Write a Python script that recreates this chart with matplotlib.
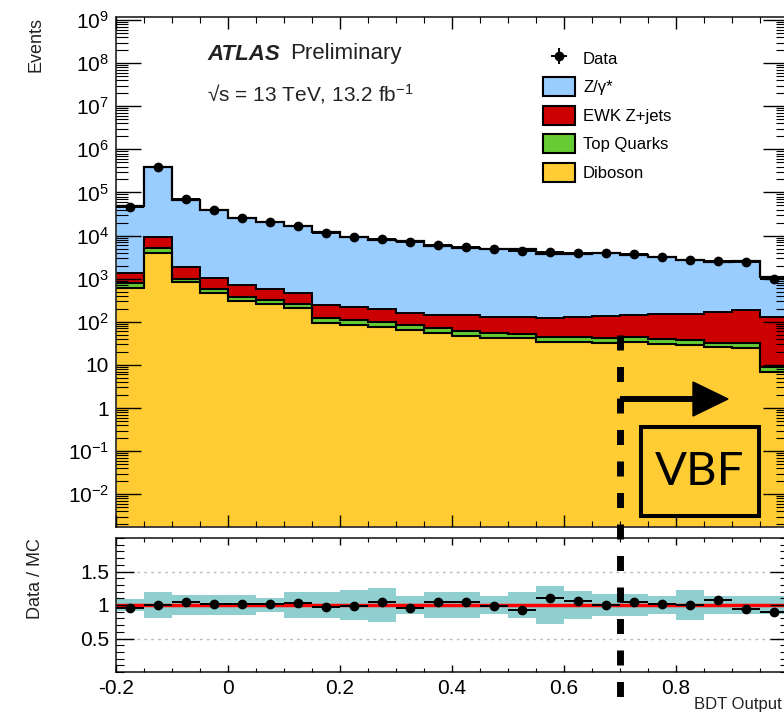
import numpy as np
import matplotlib
matplotlib.use('Agg')
import matplotlib.pyplot as plt
from matplotlib.patches import Patch, Rectangle, Polygon
from matplotlib.lines import Line2D
from matplotlib.ticker import FixedLocator, FuncFormatter, LogLocator, MultipleLocator, NullFormatter

plt.rcParams['font.family'] = ['Liberation Sans', 'DejaVu Sans']
plt.rcParams['mathtext.fontset'] = 'custom'
plt.rcParams['mathtext.rm'] = 'Liberation Sans'
plt.rcParams['mathtext.it'] = 'Liberation Sans:italic'
plt.rcParams['mathtext.bf'] = 'Liberation Sans:bold'
plt.rcParams['axes.unicode_minus'] = False

# ---------------- data ----------------
bin_edges = np.round(np.arange(-0.2, 1.0001, 0.05), 3)
data = [4.6e4, 3.9e5, 7.0e4, 3.9e4, 2.6e4, 2.1e4, 1.7e4, 1.15e4, 9.3e3, 8.3e3, 7.1e3, 6.0e3,
        5.4e3, 4.9e3, 4.4e3, 4.2e3, 4.0e3, 4.0e3, 3.7e3, 3.2e3, 2.7e3, 2.6e3, 2.4e3, 1.0e3]
diboson = [600, 4000, 820, 460, 300, 255, 205, 92, 84, 75, 64, 54,
           48, 42, 41, 34, 34, 32, 34, 31, 29, 26, 25, 7]
top_quarks = [200, 1100, 160, 120, 80, 70, 55, 28, 25, 22, 19, 16,
              14, 12, 12, 10, 10, 9, 10, 9, 8, 7, 7, 2]
ewk_zjets = [550, 4200, 890, 470, 335, 255, 205, 125, 111, 103, 77, 75,
             83, 76, 75, 81, 84, 94, 101, 110, 113, 137, 155, 121]
z_gamma = [46500, 380700, 65400, 37200, 25000, 20000, 16000, 11600, 9170, 7780, 7310, 5620,
           5000, 4820, 4650, 3690, 3650, 3870, 3380, 2990, 2550, 2240, 2360, 980]
mc_rel_unc = [0.09, 0.20, 0.15, 0.15, 0.15, 0.11, 0.20, 0.20, 0.22, 0.25, 0.14, 0.19,
              0.19, 0.14, 0.20, 0.29, 0.21, 0.16, 0.16, 0.14, 0.22, 0.14, 0.14, 0.14]
legend_labels = ['Data', 'Z/\u03b3*', 'EWK Z+jets', 'Top Quarks', 'Diboson']
vbf_cut = 0.7

# ---------------- colours ----------------
c_blue = '#99ccff'
c_red = '#cc0000'
c_green = '#66cc33'
c_yellow = '#ffcc33'
c_band = '#8fcfcf'

W, H = 784, 715
fig = plt.figure(figsize=(W / 100, H / 100), dpi=100)

def fx(px):
    return px / W

def fy(py):
    return 1 - py / H

ax = fig.add_axes([fx(116), fy(527), fx(788) - fx(116), fy(17) - fy(527)])
axr = fig.add_axes([fx(116), fy(672), fx(788) - fx(116), fy(538) - fy(672)])

edges = bin_edges
centers = 0.5 * (edges[:-1] + edges[1:])
halfw = 0.5 * (edges[1] - edges[0])
c0 = np.array(diboson, float)
c1 = c0 + np.array(top_quarks, float)
c2 = c1 + np.array(ewk_zjets, float)
c3 = c2 + np.array(z_gamma, float)
d = np.array(data, float)

ax.stairs(c3, edges, baseline=c2, fill=True, color=c_blue, lw=0, zorder=1)
ax.stairs(c2, edges, baseline=c1, fill=True, color=c_red, lw=0, zorder=1)
ax.stairs(c1, edges, baseline=c0, fill=True, color=c_green, lw=0, zorder=1)
ax.stairs(c0, edges, baseline=1e-5, fill=True, color=c_yellow, lw=0, zorder=1)
for c, lw in [(c0, 1.5), (c1, 1.5), (c2, 1.4), (c3, 1.6)]:
    ax.stairs(c, edges, baseline=None, color='black', lw=lw, zorder=2)

eb = ax.errorbar(centers, d, xerr=halfw, yerr=np.sqrt(d), fmt='o', color='black',
                 ms=6, elinewidth=1.4, capsize=0, zorder=3)

ax.set_yscale('log')
ax.set_xlim(-0.2, 1.0)
ax.set_ylim(10 ** -2.76, 10 ** 9.07)
ax.set_axisbelow(False)

def logfmt(v, pos):
    e = int(round(np.log10(v)))
    if e == 0:
        return '1'
    if e == 1:
        return '10'
    return r'$10^{%d}$' % e

ax.yaxis.set_major_locator(FixedLocator([10.0 ** e for e in range(-2, 10)]))
ax.yaxis.set_major_formatter(FuncFormatter(logfmt))
ax.yaxis.set_minor_locator(LogLocator(base=10, subs=np.arange(2, 10), numticks=30))
ax.yaxis.set_minor_formatter(NullFormatter())
ax.xaxis.set_major_locator(MultipleLocator(0.2))
ax.xaxis.set_minor_locator(MultipleLocator(0.05))
ax.tick_params(axis='y', which='major', length=18, width=1, direction='in', left=True, right=True,
               labelsize=15, pad=5)
ax.tick_params(axis='y', which='minor', length=8.5, width=0.8, direction='in', left=True, right=True)
ax.tick_params(axis='x', which='major', length=8.5, width=1, direction='in', top=True, bottom=True,
               labelbottom=False)
ax.tick_params(axis='x', which='minor', length=4.5, width=0.8, direction='in', top=True, bottom=True)
for s in ax.spines.values():
    s.set_linewidth(1.3)
    s.set_color('#333333')

# legend
handles = [eb,
           Patch(facecolor=c_blue, edgecolor='black', lw=1.5),
           Patch(facecolor=c_red, edgecolor='black', lw=1.5),
           Patch(facecolor=c_green, edgecolor='black', lw=1.5),
           Patch(facecolor=c_yellow, edgecolor='black', lw=1.5)]
ax.legend(handles, legend_labels, loc='upper left', bbox_to_anchor=(fx(543), fy(48.5)),
          bbox_transform=fig.transFigure, frameon=False, fontsize=12, handlelength=1.92,
          handleheight=1.38, labelspacing=0.57, handletextpad=0.48, borderpad=0, borderaxespad=0)

fig.text(fx(207), fy(54), 'ATLAS', fontsize=16, fontweight='bold', style='italic', va='center',
         color='#222222')
fig.text(fx(290), fy(54), 'Preliminary', fontsize=16, va='center', color='#222222')
fig.text(fx(207), fy(94), '\u221as = 13 TeV, 13.2 fb$^{-1}$', fontsize=15, va='center', color='#222222')
fig.text(fx(36), fy(17), 'Events', rotation=90, ha='center', va='top', fontsize=13, color='#222222')
fig.text(fx(36), fy(538), 'Data / MC', rotation=90, ha='center', va='top', fontsize=13, color='#222222')
fig.text(fx(782), fy(705), 'BDT Output', ha='right', va='center', fontsize=12, color='#222222')

# ratio panel
unc = np.array(mc_rel_unc)
ratio = d / c3
axr.stairs(1 + unc, edges, baseline=1 - unc, fill=True, color=c_band, lw=0, zorder=1)
for yv in (0.5, 1.5):
    axr.axhline(yv, color='#bbbbbb', lw=1, ls=(0, (2, 3)), zorder=1.2)
axr.axhline(1.0, color='#ff0000', lw=2.5, zorder=2)
axr.errorbar(centers, ratio, xerr=halfw, yerr=np.sqrt(d) / c3, fmt='o', color='black',
             ms=6, elinewidth=1.4, capsize=0, zorder=3)
axr.set_xlim(-0.2, 1.0)
axr.set_ylim(0, 2)
axr.set_axisbelow(False)
axr.yaxis.set_major_locator(FixedLocator([0.5, 1.0, 1.5]))
axr.yaxis.set_major_formatter(FuncFormatter(lambda v, p: '%g' % v))
axr.yaxis.set_minor_locator(MultipleLocator(0.1))
axr.xaxis.set_major_locator(MultipleLocator(0.2))
axr.xaxis.set_minor_locator(MultipleLocator(0.05))

def xfmt(v, p):
    if abs(v) < 1e-9:
        return '0'
    if v > 0.95:
        return ''
    return '%g' % round(v, 2)

axr.xaxis.set_major_formatter(FuncFormatter(xfmt))
axr.tick_params(axis='y', which='major', length=13, width=1, direction='in', left=True, right=True,
                labelsize=15, pad=5)
axr.tick_params(axis='y', which='minor', length=6, width=0.8, direction='in', left=True, right=True)
axr.tick_params(axis='x', which='major', length=5, width=1, direction='in', top=True, bottom=True,
                labelsize=15, pad=5)
axr.tick_params(axis='x', which='minor', length=3, width=0.8, direction='in', top=True, bottom=True)
for s in axr.spines.values():
    s.set_linewidth(1.3)
    s.set_color('#333333')

# overlay annotations (pixel coordinates)
ov = fig.add_axes([0, 0, 1, 1], zorder=10)
ov.set_xlim(0, W)
ov.set_ylim(H, 0)
ov.axis('off')
ov.patch.set_alpha(0)
fig.canvas.draw()
xcut = ax.transData.transform((vbf_cut, 1.0))[0]
lwv = 5.0
ov.add_line(Line2D([xcut, xcut], [335, 697], color='black', lw=lwv, solid_capstyle='butt',
                   dash_capstyle='butt', ls=(0, (15 * 0.72 / lwv, 16.5 * 0.72 / lwv))))
ov.add_line(Line2D([xcut, 695], [399, 399], color='black', lw=4.3, solid_capstyle='butt'))
ov.add_patch(Polygon([[693, 382], [728, 399], [693, 416]], closed=True, color='black'))
ov.add_patch(Rectangle((641, 427), 118, 89, fill=False, edgecolor='black', lw=2.9))
ov.text(700, 472, 'VBF', fontsize=34, family='Lato', ha='center', va='center', color='black')

fig.savefig('out.png', dpi=100)
